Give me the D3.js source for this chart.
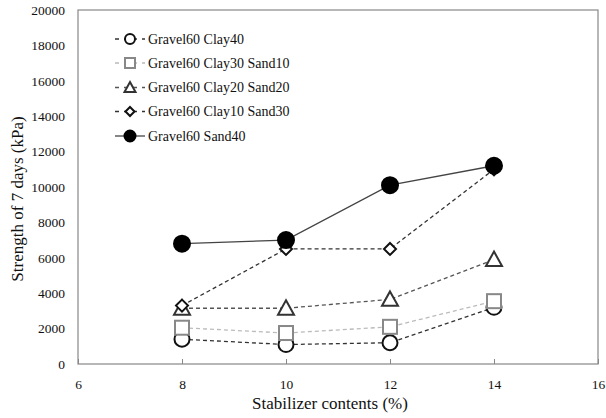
<!DOCTYPE html>
<html><head><meta charset="utf-8">
<script src="https://cdn.jsdelivr.net/npm/d3@7"></script>
<style>body{margin:0;background:#fff}svg{display:block}</style>
</head><body>
<svg id="c" width="606" height="418"></svg>
<script>
const xValues = [8, 10, 12, 14];
const seriesNames = ["Gravel60 Clay40","Gravel60 Clay30 Sand10","Gravel60 Clay20 Sand20","Gravel60 Clay10 Sand30","Gravel60 Sand40"];
const clay40 = [1400, 1100, 1200, 3200];
const clay30sand10 = [2050, 1750, 2100, 3550];
const clay20sand20 = [3150, 3150, 3650, 5900];
const clay10sand30 = [3300, 6500, 6500, 11000];
const sand40 = [6800, 7000, 10100, 11200];
const xTicks = [6, 8, 10, 12, 14, 16];
const yTicks = [0, 2000, 4000, 6000, 8000, 10000, 12000, 14000, 16000, 18000, 20000];

const styles = [
  {sym:"circle", line:"#333", dash:"4,3", stroke:"#111", fill:"#fff", size:7.5, lsize:5},
  {sym:"square", line:"#bbb", dash:"4,3", stroke:"#888", fill:"#fff", size:7, lsize:5},
  {sym:"triangle", line:"#555", dash:"4,3", stroke:"#333", fill:"#fff", size:8, lsize:5.5},
  {sym:"diamond", line:"#333", dash:"4,3", stroke:"#111", fill:"#fff", size:6, lsize:4.5},
  {sym:"circle", line:"#444", dash:null, stroke:"#000", fill:"#000", size:8, lsize:5.5}
];
const data = [clay40, clay30sand10, clay20sand20, clay10sand30, sand40];

const svg = d3.select("#c");
const L=78, R=598, T=10, B=364;
const x = d3.scaleLinear().domain([6,16]).range([L,R]);
const y = d3.scaleLinear().domain([0,20000]).range([B,T]);
const font = "'Liberation Serif','Times New Roman',serif";

svg.append("rect").attr("x",L).attr("y",T).attr("width",R-L).attr("height",B-T)
  .attr("fill","none").attr("stroke","#888").attr("stroke-width",1.2);

const xa = svg.append("g").attr("transform",`translate(0,${B})`)
  .call(d3.axisBottom(x).tickValues(xTicks).tickSize(-5).tickPadding(15).tickFormat(d3.format("d")));
xa.select(".domain").remove();
xa.selectAll("line").attr("stroke","#888");
xa.selectAll("text").attr("font-family",font).attr("font-size",13.5).attr("fill","#111");

const ya = svg.append("g").attr("transform",`translate(${L},0)`)
  .call(d3.axisLeft(y).tickValues(yTicks).tickSize(0).tickPadding(13).tickFormat(d3.format("d")));
ya.select(".domain").remove();
ya.selectAll("text").attr("font-family",font).attr("font-size",13.5).attr("fill","#111");

svg.append("text").attr("x",330).attr("y",409).attr("text-anchor","middle")
  .attr("font-family",font).attr("font-size",17).attr("fill","#111").text("Stabilizer contents (%)");
svg.append("text").attr("transform",`translate(23,199) rotate(-90)`).attr("text-anchor","middle")
  .attr("font-family",font).attr("font-size",17).attr("fill","#111").text("Strength of 7 days (kPa)");

function marker(g, st, cx, cy, s){
  let m;
  if(st.sym==="circle") m = g.append("circle").attr("cx",cx).attr("cy",cy).attr("r",s);
  else if(st.sym==="square") m = g.append("rect").attr("x",cx-s).attr("y",cy-s).attr("width",2*s).attr("height",2*s);
  else if(st.sym==="triangle") m = g.append("path").attr("d",`M${cx},${cy-s}L${cx+s},${cy+s*0.8}L${cx-s},${cy+s*0.8}Z`);
  else m = g.append("path").attr("d",`M${cx},${cy-s}L${cx+s},${cy}L${cx},${cy+s}L${cx-s},${cy}Z`);
  m.attr("fill",st.fill).attr("stroke",st.stroke).attr("stroke-width",2);
}

const line = d3.line().x((d,i)=>x(xValues[i])).y(d=>y(d));
data.forEach((vals,k)=>{
  const st = styles[k];
  const g = svg.append("g");
  g.append("path").attr("d",line(vals)).attr("fill","none").attr("stroke",st.line)
    .attr("stroke-width",1.3).attr("stroke-dasharray",st.dash);
  vals.forEach((v,i)=>marker(g, st, x(xValues[i]), y(v), st.size));
});

const lg = svg.append("g");
const legY = [39, 63, 87.5, 111.5, 136];
seriesNames.forEach((n,k)=>{
  const st = styles[k], yy = legY[k];
  lg.append("line").attr("x1",115).attr("x2",145).attr("y1",yy).attr("y2",yy)
    .attr("stroke",st.line).attr("stroke-width",1.3).attr("stroke-dasharray",st.dash?"4,5":null);
  marker(lg, st, 130, yy, st.lsize);
  lg.append("text").attr("x",148).attr("y",yy).attr("dy","0.35em").attr("font-family",font)
    .attr("font-size",14).attr("fill","#111").text(n);
});
</script>
</body></html>
